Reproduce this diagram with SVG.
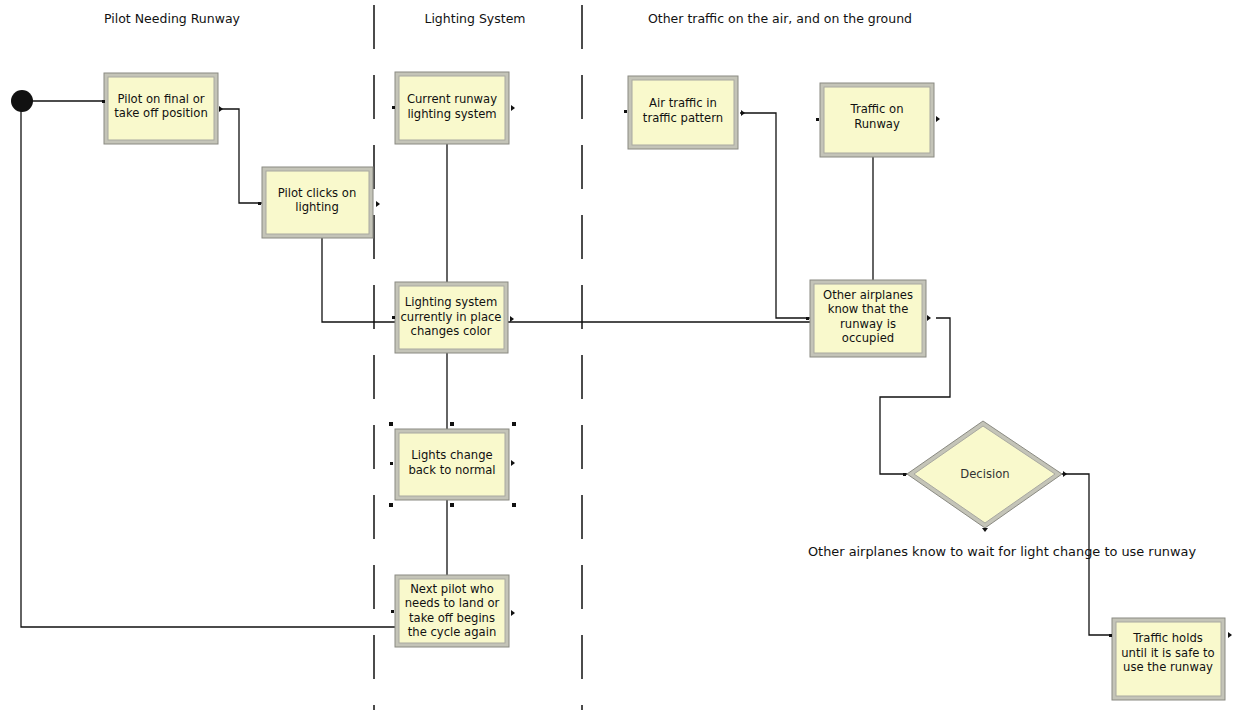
<svg xmlns="http://www.w3.org/2000/svg" width="1233" height="710" viewBox="0 0 1233 710">
<style>
.lane{stroke:#111;stroke-width:1.5;stroke-dasharray:44 26;fill:none}
.hdr{font-family:"DejaVu Sans","Liberation Sans",sans-serif;font-size:12.5px;fill:#111;text-anchor:middle}
.lbl{font-family:"DejaVu Sans","Liberation Sans",sans-serif;font-size:11.6px;fill:#111;text-anchor:middle}
.frame{fill:#c4c4b8;stroke:#8a8a82;stroke-width:1}
.inner{fill:#f9f9cc;stroke:#a8a8a0;stroke-width:1}
.conn{stroke:#111;stroke-width:1.3;fill:none}
.pt{fill:#111}
.h{fill:#111}
</style>
<rect width="1233" height="710" fill="#ffffff"/>
<g id="lanes">
<line class="lane" x1="374" y1="5" x2="374" y2="710"/>
<line class="lane" x1="582" y1="5" x2="582" y2="710"/>
<text class="hdr" x="172" y="23">Pilot Needing Runway</text>
<text class="hdr" x="475" y="23">Lighting System</text>
<text class="hdr" x="780" y="23">Other traffic on the air, and on the ground</text>
</g>
<g id="connectors">
<polyline class="conn" points="24,101 104,101"/>
<polyline class="conn" points="21,101 21,627 395,627"/>
<polyline class="conn" points="220,109 239,109 239,203 262,203"/>
<polyline class="conn" points="322,238 322,322 395,322"/>
<polyline class="conn" points="447,144 447,282"/>
<polyline class="conn" points="447,353 447,429"/>
<polyline class="conn" points="447,500 447,575"/>
<polyline class="conn" points="508,322 810,322"/>
<polyline class="conn" points="740,113 776,113 776,318 810,318"/>
<polyline class="conn" points="873,157 873,280"/>
<polyline class="conn" points="936,318 950,318 950,397 880,397 880,474 907,474"/>
<polyline class="conn" points="1062,474 1089,474 1089,635 1112,635"/>
</g>
<g id="start">
<circle cx="22" cy="101" r="11" fill="#111"/>
</g>
<g id="n1">
<rect class="frame" x="104" y="73" width="114" height="71"/>
<rect class="inner" x="108" y="77" width="106" height="63"/>
<text class="lbl" x="161" y="103">Pilot on final or</text>
<text class="lbl" x="161" y="117">take off position</text>
<rect class="pt" x="102" y="100" width="3" height="3"/>
<path class="h" d="M219,106 L223,109 L219,112 z"/>
</g>
<g id="n2">
<rect class="frame" x="262" y="167" width="111" height="71"/>
<rect class="inner" x="266" y="171" width="103" height="63"/>
<text class="lbl" x="317" y="197">Pilot clicks on</text>
<text class="lbl" x="317" y="211">lighting</text>
<rect class="pt" x="258" y="202" width="3" height="3"/>
<path class="h" d="M376,201 L380,204 L376,207 z"/>
</g>
<g id="n3">
<rect class="frame" x="395" y="72" width="114" height="72"/>
<rect class="inner" x="399" y="76" width="106" height="64"/>
<text class="lbl" x="452" y="103">Current runway</text>
<text class="lbl" x="452" y="118">lighting system</text>
<rect class="pt" x="392" y="106" width="3" height="3"/>
<path class="h" d="M511,105 L515,108 L511,111 z"/>
</g>
<g id="n4">
<rect class="frame" x="395" y="282" width="113" height="71"/>
<rect class="inner" x="399" y="286" width="105" height="63"/>
<text class="lbl" x="451" y="306">Lighting system</text>
<text class="lbl" x="451" y="321">currently in place</text>
<text class="lbl" x="451" y="335">changes color</text>
<rect class="pt" x="392" y="316" width="3" height="3"/>
<path class="h" d="M510,316 L514,319 L510,322 z"/>
</g>
<g id="n5">
<rect class="frame" x="395" y="429" width="114" height="71"/>
<rect class="inner" x="399" y="433" width="106" height="63"/>
<text class="lbl" x="452" y="459">Lights change</text>
<text class="lbl" x="452" y="474">back to normal</text>
<rect class="pt" x="389" y="422" width="4" height="4"/>
<rect class="pt" x="450" y="422" width="4" height="4"/>
<rect class="pt" x="512" y="422" width="4" height="4"/>
<rect class="pt" x="389" y="503" width="4" height="4"/>
<rect class="pt" x="450" y="503" width="4" height="4"/>
<rect class="pt" x="512" y="503" width="4" height="4"/>
<rect class="pt" x="390" y="462" width="3" height="3"/>
<path class="h" d="M511,460 L515,463 L511,466 z"/>
</g>
<g id="n6">
<rect class="frame" x="395" y="575" width="114" height="72"/>
<rect class="inner" x="399" y="579" width="106" height="64"/>
<text class="lbl" x="452" y="593">Next pilot who</text>
<text class="lbl" x="452" y="607">needs to land or</text>
<text class="lbl" x="452" y="622">take off begins</text>
<text class="lbl" x="452" y="636">the cycle again</text>
<rect class="pt" x="391" y="610" width="3" height="3"/>
<path class="h" d="M511,610 L515,613 L511,616 z"/>
</g>
<g id="n7">
<rect class="frame" x="628" y="76" width="110" height="73"/>
<rect class="inner" x="632" y="80" width="102" height="65"/>
<text class="lbl" x="683" y="107">Air traffic in</text>
<text class="lbl" x="683" y="122">traffic pattern</text>
<rect class="pt" x="624" y="110" width="3" height="3"/>
<path class="h" d="M741,110 L745,113 L741,116 z"/>
</g>
<g id="n8">
<rect class="frame" x="820" y="83" width="114" height="74"/>
<rect class="inner" x="824" y="87" width="106" height="66"/>
<text class="lbl" x="877" y="113">Traffic on</text>
<text class="lbl" x="877" y="128">Runway</text>
<rect class="pt" x="816" y="118" width="3" height="3"/>
<path class="h" d="M936,116 L940,119 L936,122 z"/>
</g>
<g id="n9">
<rect class="frame" x="810" y="280" width="116" height="77"/>
<rect class="inner" x="814" y="284" width="108" height="69"/>
<text class="lbl" x="868" y="299">Other airplanes</text>
<text class="lbl" x="868" y="313">know that the</text>
<text class="lbl" x="868" y="328">runway is</text>
<text class="lbl" x="868" y="342">occupied</text>
<rect class="pt" x="806" y="317" width="3" height="3"/>
<path class="h" d="M927,315 L931,318 L927,321 z"/>
</g>
<g id="n10">
<polygon points="907,474 983,421 1062,474 985,528" fill="#c4c4b8" stroke="#8a8a82" stroke-width="1"/>
<polygon points="914,474 983,426 1055,474 985,523" fill="#f9f9cc" stroke="#a8a8a0" stroke-width="1"/>
<text class="lbl" x="985" y="478" style="fill:#333">Decision</text>
<rect class="pt" x="903" y="473" width="3" height="3"/>
<path class="h" d="M1063,471 L1067,474 L1063,477 z"/>
<path class="h" d="M982,528 L988,528 L985,532 z"/>
</g>
<g id="label-wait">
<text class="hdr" x="1002" y="556" style="font-size:12.9px">Other airplanes know to wait for light change to use runway</text>
</g>
<g id="n11">
<rect class="frame" x="1112" y="618" width="113" height="82"/>
<rect class="inner" x="1116" y="622" width="105" height="74"/>
<text class="lbl" x="1168" y="642">Traffic holds</text>
<text class="lbl" x="1168" y="657">until it is safe to</text>
<text class="lbl" x="1168" y="671">use the runway</text>
<rect class="pt" x="1109" y="634" width="3" height="3"/>
<path class="h" d="M1228,632 L1232,635 L1228,638 z"/>
</g>
</svg>
